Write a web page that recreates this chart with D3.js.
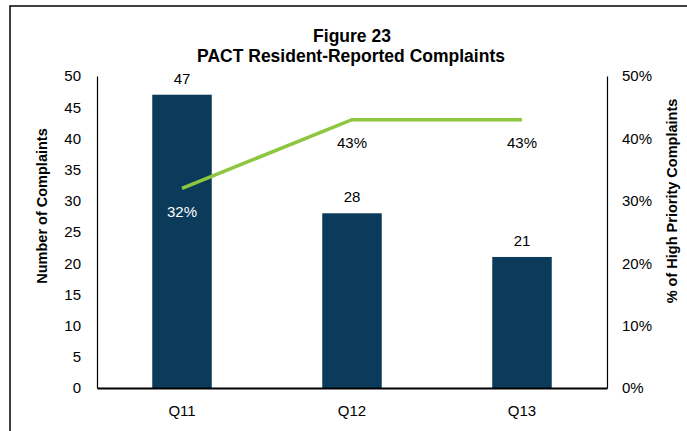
<!DOCTYPE html>
<html><head><meta charset="utf-8">
<script src="https://cdn.jsdelivr.net/npm/d3@7"></script>
<style>body{margin:0;background:#fff;}svg{display:block;font-family:"Liberation Sans",Arial,sans-serif;}</style>
</head><body><svg id="c" width="687" height="431"></svg>
<script>
const categories = ["Q11", "Q12", "Q13"];
const complaints = [47, 28, 21];
const highPriorityPct = [0.32, 0.43, 0.43];
const leftTicks = [0, 5, 10, 15, 20, 25, 30, 35, 40, 45, 50];
const rightTicks = [0, 0.1, 0.2, 0.3, 0.4, 0.5];

const svg = d3.select("#c");
const m = {l: 97, r: 607, t: 76, b: 388};

// frame
svg.append("rect").attr("x", 10).attr("y", 6).attr("width", 700).attr("height", 440)
  .attr("fill", "none").attr("stroke", "#000").attr("stroke-width", 1.5);

const x = d3.scaleBand().domain(categories).range([m.l, m.r]).paddingInner(0.65).paddingOuter(0.325);
const y = d3.scaleLinear().domain([0, 50]).range([m.b, m.t]);
const y2 = d3.scaleLinear().domain([0, 0.5]).range([m.b, m.t]);

// title
svg.append("text").attr("x", 352).attr("y", 41.5).attr("text-anchor", "middle")
  .attr("font-size", 17.5).attr("font-weight", "bold").text("Figure 23");
svg.append("text").attr("x", 351).attr("y", 61.5).attr("text-anchor", "middle")
  .attr("font-size", 17.5).attr("font-weight", "bold").text("PACT Resident-Reported Complaints");

// bars
svg.selectAll("rect.bar").data(complaints).enter().append("rect").attr("class", "bar")
  .attr("x", (d, i) => x(categories[i])).attr("width", x.bandwidth())
  .attr("y", d => y(d)).attr("height", d => m.b - y(d)).attr("fill", "#0B3A5B");

// axes
const la = svg.append("g").attr("transform", `translate(${m.l},0)`)
  .call(d3.axisLeft(y).tickValues(leftTicks).tickSize(0).tickPadding(16));
const ra = svg.append("g").attr("transform", `translate(${m.r},0)`)
  .call(d3.axisRight(y2).tickValues(rightTicks).tickSize(0).tickPadding(15).tickFormat(d3.format(".0%")));
const ba = svg.append("g").attr("transform", `translate(0,${m.b})`)
  .call(d3.axisBottom(x).tickSize(0).tickPadding(17));
[la, ra, ba].forEach(g => {
  g.selectAll("text").attr("font-size", 15).attr("fill", "#000").attr("font-family", '"Liberation Sans",Arial,sans-serif');
  g.select(".domain").attr("stroke", "#000");
});
la.select(".domain").attr("stroke-width", 1.2);
ra.select(".domain").attr("stroke-width", 1.2);
ba.select(".domain").attr("stroke-width", 2);

// line
const line = d3.line().x((d, i) => x(categories[i]) + x.bandwidth() / 2).y(d => y2(d));
svg.append("path").datum(highPriorityPct).attr("d", line)
  .attr("fill", "none").attr("stroke", "#8DC63F").attr("stroke-width", 3.5);

// bar labels
svg.selectAll("text.bl").data(complaints).enter().append("text").attr("class", "bl")
  .attr("x", (d, i) => x(categories[i]) + x.bandwidth() / 2).attr("y", d => y(d) - 11)
  .attr("text-anchor", "middle").attr("font-size", 15).text(d => d);

// line labels
svg.selectAll("text.ll").data(highPriorityPct).enter().append("text").attr("class", "ll")
  .attr("x", (d, i) => x(categories[i]) + x.bandwidth() / 2).attr("y", d => y2(d) + 28.5)
  .attr("text-anchor", "middle").attr("font-size", 15)
  .attr("fill", (d, i) => y2(d) + 28 > y(complaints[i]) ? "#fff" : "#000")
  .text(d => d3.format(".0%")(d));

// axis titles
svg.append("text").attr("transform", "translate(47,206) rotate(-90)").attr("text-anchor", "middle")
  .attr("font-size", 14.5).attr("font-weight", "bold").text("Number of Complaints");
svg.append("text").attr("transform", "translate(677,201) rotate(-90)").attr("text-anchor", "middle")
  .attr("font-size", 14.5).attr("font-weight", "bold").text("% of High Priority Complaints");
</script></body></html>
